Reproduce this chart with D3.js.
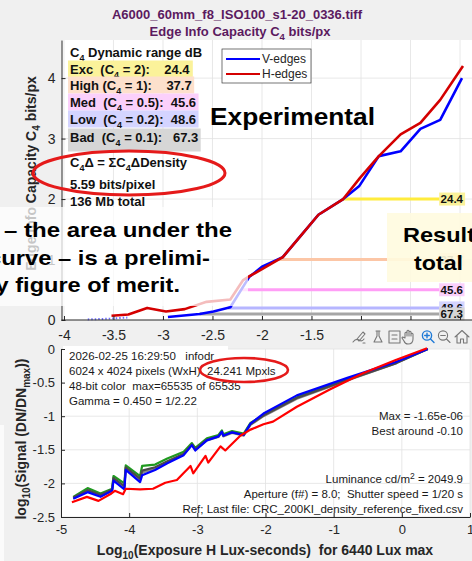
<!DOCTYPE html>
<html><head><meta charset="utf-8">
<script src="https://cdn.jsdelivr.net/npm/d3@7/dist/d3.min.js"></script>
<style>
html,body{margin:0;padding:0;background:#f0f0f0;overflow:hidden}
svg{display:block;font-family:"Liberation Sans",Arial,Helvetica,sans-serif}
text{white-space:pre}
</style></head><body>
<svg id="chart" width="472" height="561"></svg>
<script>
// ---------- data ----------
const titleFile = "A6000_60mm_f8_ISO100_s1-20_0336.tiff";
const drLevels = ["Exc", "High", "Med", "Low", "Bad"];
const drC4 = [2, 1, 0.5, 0.2, 0.1];
const drDB = [24.4, 37.7, 45.6, 48.6, 67.3];
const c4Sum = 5.59;
const totalMb = 136;

const topXTicks = [-4, -3.5, -3, -2.5, -2, -1.5, -1, -0.5, 0];
const topYTicks = [0, 1, 2, 3, 4];

// C4 (bits/px) vs log10 exposure
const vEdges = [[-2.95,0.05],[-2.63,0.1],[-2.49,0.14],[-2.32,0.21],[-2.13,0.71],[-2.0,0.88],
  [-1.79,1.04],[-1.62,1.37],[-1.43,1.74],[-1.18,2.0],[-1.02,2.21],[-0.82,2.71],[-0.6,2.79],
  [-0.4,3.16],[-0.2,3.31],[0.02,4.0]];
const vEdgesFloor = [[-3.76,0.01],[-3.56,0.02],[-3.36,0.04]];
const hEdges = [[-3.52,0.07],[-3.35,0.09],[-3.16,0.2],[-2.97,0.14],[-2.78,0.18],[-2.56,0.3],
  [-2.32,0.34],[-2.19,0.66],[-2.13,0.72],[-2.0,0.84],[-1.79,1.04],[-1.62,1.37],[-1.43,1.74],
  [-1.18,2.0],[-1.01,2.35],[-0.82,2.71],[-0.6,3.07],[-0.4,3.26],[-0.2,3.64],[0.03,4.2]];

const botXTicks = [-5, -4, -3, -2, -1, 0, 1];
const botYTicks = [0, -0.5, -1, -1.5, -2, -2.5];

// log10 signal vs log10 exposure
const sigGreen = [[-4.82,-2.2],[-4.61,-2.07],[-4.42,-2.15],[-4.25,-2.08],[-4.23,-1.89],[-4.07,-2.0],
  [-4.05,-1.73],[-3.84,-1.89],[-3.81,-1.74],[-3.62,-1.72],[-3.44,-1.63],[-3.2,-1.53],[-3.08,-1.4],
  [-3.03,-1.47],[-2.86,-1.33],[-2.69,-1.28],[-2.64,-1.21],[-2.62,-1.27],[-2.49,-1.22],[-2.32,-1.26],
  [-2.22,-1.1],[-2.03,-0.98],[-1.54,-0.72],[-0.8,-0.45],[-0.08,-0.2],[0.38,0.0]];
const sigDark = [[-4.82,-2.21],[-4.61,-2.1],[-4.42,-2.17],[-4.25,-2.09],[-4.23,-1.92],[-4.07,-2.04],
  [-4.05,-1.76],[-3.84,-1.93],[-3.81,-1.81],[-3.62,-1.76],[-3.44,-1.67],[-3.2,-1.56],[-3.08,-1.42],
  [-3.03,-1.49],[-2.86,-1.35],[-2.69,-1.3],[-2.64,-1.23],[-2.62,-1.29],[-2.49,-1.24],[-2.32,-1.28],
  [-2.22,-1.12],[-2.03,-0.99],[-1.54,-0.73],[-0.8,-0.46],[-0.08,-0.21],[0.38,0.0]];
const sigGrey = [[-4.82,-2.22],[-4.61,-2.11],[-4.42,-2.18],[-4.25,-2.1],[-4.23,-1.94],[-4.07,-2.06],
  [-4.05,-1.78],[-3.84,-1.95],[-3.81,-1.84],[-3.62,-1.78],[-3.44,-1.68],[-3.2,-1.57],[-3.08,-1.43],
  [-3.03,-1.5],[-2.86,-1.36],[-2.69,-1.31],[-2.64,-1.24],[-2.62,-1.3],[-2.49,-1.25],[-2.32,-1.29],
  [-2.22,-1.13],[-2.03,-1.0],[-1.54,-0.74],[-0.8,-0.47],[-0.08,-0.21],[0.38,0.0]];
const sigBlue = [[-4.82,-2.23],[-4.61,-2.13],[-4.42,-2.2],[-4.25,-2.11],[-4.23,-1.96],[-4.07,-2.09],
  [-4.05,-1.8],[-3.84,-1.98],[-3.81,-1.88],[-3.62,-1.8],[-3.44,-1.7],[-3.2,-1.58],[-3.08,-1.43],
  [-3.03,-1.51],[-2.86,-1.36],[-2.69,-1.3],[-2.64,-1.23],[-2.62,-1.29],[-2.49,-1.24],[-2.32,-1.28],
  [-2.22,-1.11],[-2.03,-0.96],[-1.54,-0.69],[-0.8,-0.43],[-0.08,-0.19],[0.38,0.0]];
const sigRed = [[-4.84,-2.28],[-4.62,-2.2],[-4.45,-2.26],[-4.26,-2.15],[-4.21,-2.11],[-4.09,-2.16],
  [-4.05,-2.08],[-3.84,-2.09],[-3.65,-2.08],[-3.47,-1.99],[-3.3,-1.95],[-3.1,-1.74],[-3.06,-1.85],
  [-2.88,-1.59],[-2.84,-1.69],[-2.66,-1.45],[-2.59,-1.51],[-2.37,-1.29],[-2.22,-1.2],[-2.03,-1.12],
  [-1.89,-1.08],[-1.54,-0.86],[-1.05,-0.6],[-0.57,-0.36],[-0.08,-0.16],[0.37,0.01]];

const infoLines = ["2026-02-25 16:29:50   infodr",
  "6024 x 4024 pixels (WxH)  24.241 Mpxls",
  "48-bit color  max=65535 of 65535",
  "Gamma = 0.450 = 1/2.22"];
const peakLines = ["Max = -1.65e-06", "Best around -0.10"];
const refLines = ["Luminance cd/m|2| = 2049.9",
  "Aperture (f#) = 8.0;  Shutter speed = 1/20 s",
  "Ref; Last file: CRC_200KI_density_reference_fixed.csv"];

// ---------- setup ----------
const svg = d3.select("#chart");
const FONT = '"Liberation Sans",Arial,Helvetica,sans-serif';
const AX = "#262626";

// append a text made of plain and subscript parts: [[str, isSub], ...]
function richText(sel, parts, subSize) {
  let down = false;
  parts.forEach(([s, sub]) => {
    const t = sel.append("tspan").text(s);
    if (sub && !down) { t.attr("dy", 4).attr("font-size", subSize); down = true; }
    else if (sub) { t.attr("font-size", subSize); }
    else if (!sub && down) { t.attr("dy", -4); down = false; }
  });
  return sel;
}

const xTop = d3.scaleLinear().domain([-4.025, 0.12]).range([61.5, 471.9]);
const yTop = d3.scaleLinear().domain([0, 4.63]).range([320, 40]);
const xBot = d3.scaleLinear().domain([-5, 1]).range([61, 470]);
const yBot = d3.scaleLinear().domain([-2.5, 0]).range([517, 349]);

// ---------- title ----------
const title = svg.append("g").attr("font-weight", "bold").attr("font-size", 13)
  .attr("fill", "#5b1a5f").attr("text-anchor", "middle");
title.append("text").attr("x", 237).attr("y", 18.5).text(titleFile);
richText(title.append("text").attr("x", 240).attr("y", 35.5),
  [["Edge Info Capacity C", false], ["4", true], [" bits/px", false]], 9.5);

// ---------- upper panel ----------
const upper = svg.append("g");
upper.append("rect").attr("x", 61.5).attr("y", 40).attr("width", 411).attr("height", 280).attr("fill", "#fff");
const tg = upper.append("g").attr("stroke", "#e2e2e2").attr("stroke-width", 0.8);
topXTicks.forEach(v => tg.append("line").attr("x1", xTop(v)).attr("x2", xTop(v)).attr("y1", 40).attr("y2", 320));
topYTicks.filter(v => v > 0).forEach(v => tg.append("line").attr("x1", 61.5).attr("x2", 472).attr("y1", yTop(v)).attr("y2", yTop(v)));

// threshold lines start where the V-edge curve rises through each C4 level
function crossX(series, thr) {
  for (let i = series.length - 1; i > 0; i--) {
    const a = series[i - 1], b = series[i];
    if (a[1] < thr && b[1] >= thr) return a[0] + (thr - a[1]) / (b[1] - a[1]) * (b[0] - a[0]);
  }
  return series[0][0];
}
const thrLine = ["#ffec3d", "#fcc6a6", "#ff9ef6", "#b6b6ff", "#a6a6a6"];
const thrFill = ["#fbf29a", "#fde0cc", "#fbd0fb", "#d4d4ff", "#d6d6d6"];
drC4.forEach((c, i) => {
  upper.append("line").attr("x1", xTop(crossX(vEdges, c))).attr("x2", 450)
    .attr("y1", yTop(c)).attr("y2", yTop(c)).attr("stroke", thrLine[i]).attr("stroke-width", 3);
});

const lineTop = d3.line().x(d => xTop(d[0])).y(d => yTop(d[1]));
upper.append("path").datum(vEdgesFloor).attr("d", lineTop).attr("fill", "none")
  .attr("stroke", "#6f6fff").attr("stroke-width", 2).attr("stroke-dasharray", "1.5,2");
upper.append("path").datum(vEdges).attr("d", lineTop).attr("fill", "none")
  .attr("stroke", "#0000ff").attr("stroke-width", 2.6).attr("stroke-linejoin", "round");
upper.append("path").datum(hEdges).attr("d", lineTop).attr("fill", "none")
  .attr("stroke", "#d40000").attr("stroke-width", 2.6).attr("stroke-linejoin", "round");

// dB labels at the right end of the level lines
drC4.forEach((c, i) => {
  const g = upper.append("g");
  const t = g.append("text").attr("x", 463).attr("y", yTop(c) + 4).attr("text-anchor", "end")
    .attr("font-weight", "bold").attr("font-size", 11.5).attr("fill", "#111").text(drDB[i].toFixed(1));
  const bb = t.node().getBBox();
  g.insert("rect", "text").attr("x", bb.x - 1.5).attr("y", yTop(c) - 6.5).attr("width", bb.width + 3)
    .attr("height", 13).attr("fill", thrFill[i]);
});

// axes
const axTopY = upper.append("g").attr("transform", "translate(61.5,0)")
  .call(d3.axisLeft(yTop).tickValues(topYTicks).tickSize(-4).tickSizeOuter(0).tickPadding(6).tickFormat(d => String(d)));
const axTopX = upper.append("g").attr("transform", "translate(0,320)")
  .call(d3.axisBottom(xTop).tickValues(topXTicks).tickSize(-4).tickSizeOuter(0).tickPadding(10).tickFormat(d => String(d)));
[axTopY, axTopX].forEach(a => {
  a.selectAll("path,line").attr("stroke", AX);
  a.selectAll("text").attr("font-size", 14).attr("font-family", FONT).attr("fill", AX);
});
axTopX.select(".domain").attr("d", "M61.5,0H472");

richText(upper.append("text").attr("transform", "translate(36,173.5) rotate(-90)")
  .attr("text-anchor", "middle").attr("font-weight", "bold").attr("font-size", 14).attr("fill", AX),
  [["Edge Info Capacity C", false], ["4", true], [" bits/px", false]], 10);

// dynamic range table
const dr = upper.append("g").attr("font-weight", "bold").attr("font-size", 13).attr("fill", "#111");
richText(dr.append("text").attr("x", 70).attr("y", 57),
  [["C", false], ["4", true], [" Dynamic range dB", false]], 9);
const pad1 = ["  ", " ", "  ", "  ", "  "];
const pad2 = ["    ", "    ", "  ", "  ", "   "];
const rowY = [73.5, 89.5, 106.5, 123.5, 141.5];
drLevels.forEach((lv, i) => {
  const g = dr.append("g");
  const t = richText(g.append("text").attr("x", 70).attr("y", rowY[i]).attr("xml:space", "preserve"),
    [[lv + pad1[i] + "(C", false], ["4", true], [" = " + drC4[i] + "):" + pad2[i] + drDB[i].toFixed(1), false]], 9);
  const bb = t.node().getBBox();
  g.insert("rect", "text").attr("x", 68).attr("y", rowY[i] - 13)
    .attr("width", bb.x + bb.width + 2.5 - 68).attr("height", i === 4 ? 23 : 17).attr("fill", thrFill[i]);
});
richText(dr.append("text").attr("x", 70).attr("y", 166.5),
  [["C", false], ["4", true], ["\u0394 = \u03A3C", false], ["4", true], ["\u0394Density", false]], 9);
dr.append("text").attr("x", 70).attr("y", 188.5).text(c4Sum.toFixed(2) + " bits/pixel");
dr.append("text").attr("x", 70).attr("y", 205.5).text(totalMb + " Mb total");

// legend
const lg = upper.append("g");
lg.append("rect").attr("x", 222).attr("y", 49).attr("width", 89).attr("height", 34)
  .attr("fill", "#fff").attr("stroke", "#3a3a3a").attr("stroke-width", 0.7);
[["V-edges", "#0000ff"], ["H-edges", "#d40000"]].forEach(([name, col], i) => {
  const y = 59 + i * 15;
  lg.append("line").attr("x1", 226).attr("x2", 260).attr("y1", y).attr("y2", y).attr("stroke", col).attr("stroke-width", 2.2);
  lg.append("text").attr("x", 262).attr("y", y + 4.2).attr("font-size", 12).attr("fill", AX).text(name);
});

// ellipse around the area figure
upper.append("ellipse").attr("cx", 129).attr("cy", 173).attr("rx", 96).attr("ry", 22)
  .attr("fill", "none").attr("stroke", "#e51a1a").attr("stroke-width", 3);

// callouts
upper.append("text").attr("x", 210).attr("y", 125).attr("textLength", 165).attr("lengthAdjust", "spacingAndGlyphs")
  .attr("font-weight", "bold").attr("font-size", 24.5).attr("fill", "#000").text("Experimental");

upper.append("rect").attr("x", 0).attr("y", 207).attr("width", 248).attr("height", 99)
  .attr("fill", "#ffffff").attr("fill-opacity", 0.74);
const note = upper.append("g").attr("font-weight", "bold").attr("font-size", 21).attr("fill", "#000");
[["\u2013 the area under the", 4, 228, 237], ["curve \u2013 is a prelimi-", -12, 222, 265],
 ["nary figure of merit.", -41, 221, 292]].forEach(([s, x, w, y]) => {
  note.append("text").attr("x", x).attr("y", y).attr("textLength", w)
    .attr("lengthAdjust", "spacingAndGlyphs").text(s);
});

upper.append("rect").attr("x", 387).attr("y", 213).attr("width", 90).attr("height", 69)
  .attr("fill", "#fffbdf").attr("fill-opacity", 0.9);
upper.append("text").attr("x", 403).attr("y", 242).attr("textLength", 72).attr("lengthAdjust", "spacingAndGlyphs")
  .attr("font-weight", "bold").attr("font-size", 21).text("Result");
upper.append("text").attr("x", 414).attr("y", 270).attr("textLength", 49).attr("lengthAdjust", "spacingAndGlyphs")
  .attr("font-weight", "bold").attr("font-size", 21).text("total");

// ---------- lower panel ----------
const lower = svg.append("g");
lower.append("rect").attr("x", 61).attr("y", 349).attr("width", 409).attr("height", 168).attr("fill", "#fff");
const bgrid = lower.append("g").attr("stroke", "#e2e2e2").attr("stroke-width", 0.8);
botXTicks.forEach(v => bgrid.append("line").attr("x1", xBot(v)).attr("x2", xBot(v)).attr("y1", 349).attr("y2", 517));
botYTicks.forEach(v => bgrid.append("line").attr("x1", 61).attr("x2", 470).attr("y1", yBot(v)).attr("y2", yBot(v)));

// info box
lower.append("rect").attr("x", 63).attr("y", 346).attr("width", 165).attr("height", 62).attr("fill", "#fff");
const info = lower.append("g").attr("font-size", 11.5).attr("fill", "#1a1a1a").attr("xml:space", "preserve");
infoLines.forEach((s, i) => info.append("text").attr("x", 69).attr("y", 360 + i * 14.9).text(s));

const lineBot = d3.line().x(d => xBot(d[0])).y(d => yBot(d[1]));
[[sigGreen, "#1f9a1f"], [sigGrey, "#8a8a8a"], [sigDark, "#4a4a4a"], [sigBlue, "#0000ff"], [sigRed, "#ff0000"]]
  .forEach(([s, col]) => lower.append("path").datum(s).attr("d", lineBot).attr("fill", "none")
    .attr("stroke", col).attr("stroke-width", 2.2).attr("stroke-linejoin", "round"));

const axBotY = lower.append("g").attr("transform", "translate(61,0)")
  .call(d3.axisLeft(yBot).tickValues(botYTicks).tickSize(-4).tickSizeOuter(0).tickPadding(6).tickFormat(d => String(d)));
const axBotX = lower.append("g").attr("transform", "translate(0,517)")
  .call(d3.axisBottom(xBot).tickValues(botXTicks).tickSize(-4).tickSizeOuter(0).tickPadding(8).tickFormat(d => String(d)));
[axBotY, axBotX].forEach(a => {
  a.selectAll("path,line").attr("stroke", AX);
  a.selectAll("text").attr("font-size", 13).attr("font-family", FONT).attr("fill", AX);
});

const notes = lower.append("g").attr("font-size", 11.5).attr("fill", "#1a1a1a").attr("text-anchor", "end")
  .attr("xml:space", "preserve");
peakLines.forEach((s, i) => notes.append("text").attr("x", 463).attr("y", 420 + i * 15).text(s));
refLines.forEach((s, i) => {
  const p = s.split("|");
  const t = notes.append("text").attr("x", 463).attr("y", 483 + i * 15);
  if (p.length === 3) {
    t.append("tspan").text(p[0]);
    t.append("tspan").attr("dy", -4).attr("font-size", 8.5).text(p[1]);
    t.append("tspan").attr("dy", 4).text(p[2]);
  } else t.text(s);
});

lower.append("ellipse").attr("cx", 244).attr("cy", 370).attr("rx", 44).attr("ry", 12)
  .attr("fill", "none").attr("stroke", "#e51a1a").attr("stroke-width", 2.6);

richText(lower.append("text").attr("x", 265).attr("y", 555).attr("text-anchor", "middle")
  .attr("font-weight", "bold").attr("font-size", 14).attr("fill", AX).attr("xml:space", "preserve"),
  [["Log", false], ["10", true], ["(Exposure H Lux-seconds)  for 6440 Lux max", false]], 10);
richText(lower.append("text").attr("transform", "translate(26,439) rotate(-90)").attr("text-anchor", "middle")
  .attr("font-weight", "bold").attr("font-size", 14).attr("fill", AX),
  [["log", false], ["10", true], ["(Signal (DN/DN", false], ["max", true], ["))", false]], 10);

// ---------- figure toolbar ----------
const tb = svg.append("g");
tb.append("rect").attr("x", 350).attr("y", 327).attr("width", 122).attr("height", 19).attr("fill", "#f0f0f0");
const ic = tb.append("g").attr("fill", "none").attr("stroke", "#777").attr("stroke-width", 1.1)
  .attr("stroke-linecap", "round").attr("stroke-linejoin", "round");
ic.append("path").attr("d", "M353,342 q3,-4 6,-2 t5,-1 M357,339 l6,-7 l2,2 l-6,7 z M363,343 l2,0");
ic.append("path").attr("d", "M376,331 h4 M377,331 v5 l-3,6 h8 l-3,-6 v-5");
ic.append("path").attr("d", "M389,331 h11 v12 h-11 z M392,335 h5 M392,339 h5");
ic.append("path").attr("d", "M405,338 v-5 q1,-1.5 2,0 v3 v-5 q1,-1.5 2,0 v5 v-4 q1,-1.5 2,0 v4 v-2 q1,-1.5 2,0 v5 q0,5 -5,5 q-3,0 -4,-3 l-2,-3 q0,-1.5 2,-0.5 z");
const zin = tb.append("g").attr("fill", "none").attr("stroke", "#1f7ad6").attr("stroke-width", 1.4).attr("stroke-linecap", "round");
zin.append("circle").attr("cx", 427).attr("cy", 335.5).attr("r", 4.6);
zin.append("path").attr("d", "M430.5,339 l3.5,3.5 M424.7,335.5 h4.6 M427,333.2 v4.6");
ic.append("circle").attr("cx", 443).attr("cy", 335.5).attr("r", 4.6);
ic.append("path").attr("d", "M446.5,339 l3.5,3.5 M440.7,335.5 h4.6");
ic.append("path").attr("d", "M455,337 l7,-6.5 l7,6.5 M457,335.5 v7.5 h3.5 v-4 h3 v4 h3.5 v-7.5");

// left margin strip of the lower figure
svg.append("rect").attr("x", 0).attr("y", 425).attr("width", 4).attr("height", 136).attr("fill", "#fbfbfb");
</script>
</body></html>
